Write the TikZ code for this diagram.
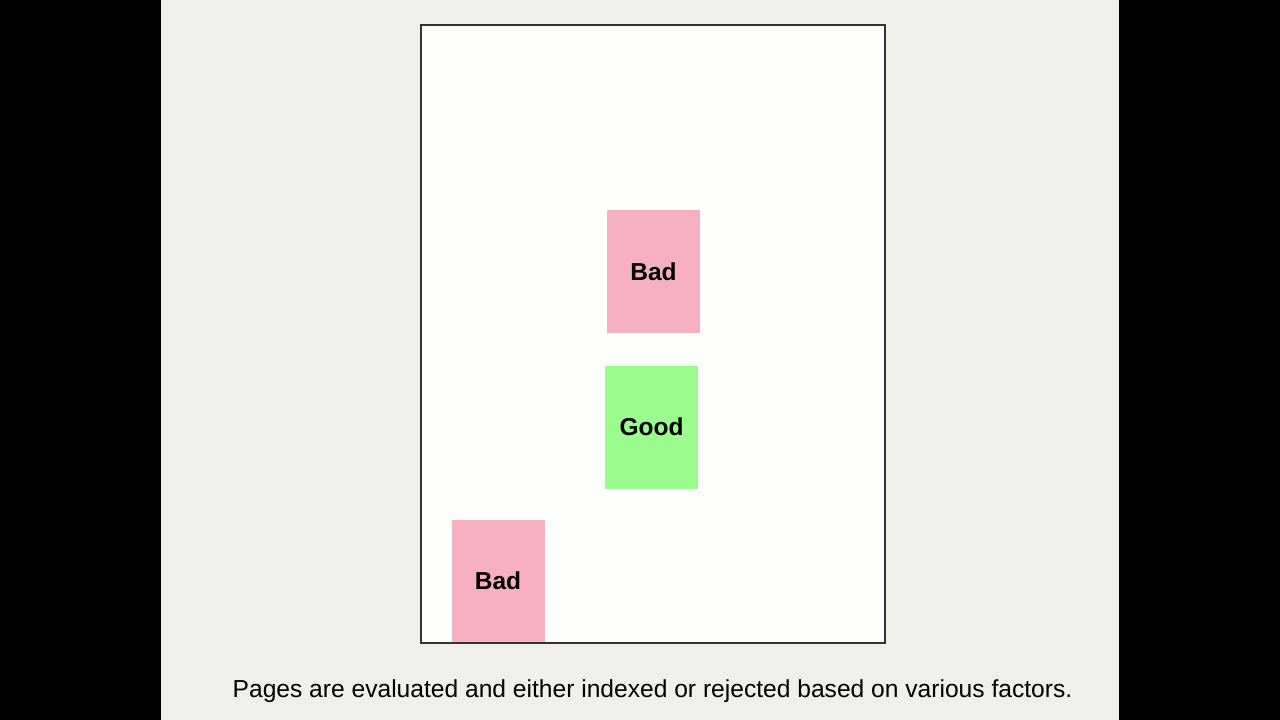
\documentclass[tikz,border=0pt]{standalone}
\usepackage{fontspec}
\setmainfont{Liberation Sans}
\definecolor{slidebg}{HTML}{EFF0EC}
\definecolor{pagebg}{HTML}{FEFFFC}
\definecolor{badpink}{HTML}{F7AFC2}
\definecolor{goodgreen}{HTML}{99FC8D}
\definecolor{frameline}{HTML}{333333}

\begin{document}
\begin{tikzpicture}[
  x=1pt, y=-1pt,
  every node/.style={inner sep=0pt, outer sep=0pt},
  page/.style={draw=frameline, line width=2pt, fill=pagebg, minimum width=464pt, minimum height=618pt},
  verdict/.style={minimum width=93pt, minimum height=123pt, font=\fontsize{24.5}{28}\selectfont\bfseries, text=black},
  bad/.style={verdict, fill=badpink},
  good/.style={verdict, fill=goodgreen}
]
\useasboundingbox (0,0) rectangle (1280,720);
\fill[black] (0,0) rectangle (1280,720);
\fill[slidebg] (161,0) rectangle (1119,720);
\node[page] (page) at (653,334) {};
\node[bad] (badtop) at (653.5,271.5) {Bad};
\node[good] (good) at (651.5,427) {Good};
\node[bad] (badlow) at (498,581) {Bad};
\draw[frameline, line width=2pt] (page.south west) -- (page.south east);
\node[font=\fontsize{24.6}{28}\selectfont] (caption) at (652.5,691.5) {Pages are evaluated and either indexed or rejected based on various factors.};
\end{tikzpicture}
\end{document}
